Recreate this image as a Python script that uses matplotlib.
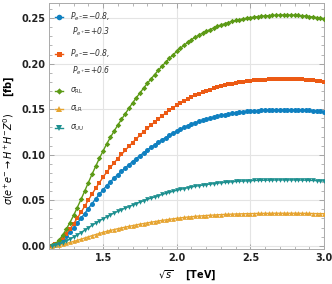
import numpy as np
import matplotlib
matplotlib.use("Agg")
import matplotlib.pyplot as plt
from matplotlib.ticker import MultipleLocator

# sqrt(s) in TeV
sqrt_s = [1.150, 1.175, 1.200, 1.225, 1.250, 1.275, 1.300, 1.325, 1.350, 1.375,
          1.400, 1.425, 1.450, 1.475, 1.500, 1.525, 1.550, 1.575, 1.600, 1.625,
          1.650, 1.675, 1.700, 1.725, 1.750, 1.775, 1.800, 1.825, 1.850, 1.875,
          1.900, 1.925, 1.950, 1.975, 2.000, 2.025, 2.050, 2.075, 2.100, 2.125,
          2.150, 2.175, 2.200, 2.225, 2.250, 2.275, 2.300, 2.325, 2.350, 2.375,
          2.400, 2.425, 2.450, 2.475, 2.500, 2.525, 2.550, 2.575, 2.600, 2.625,
          2.650, 2.675, 2.700, 2.725, 2.750, 2.775, 2.800, 2.825, 2.850, 2.875,
          2.900, 2.925, 2.950, 2.975, 3.000]

pol_03 = [0.0002, 0.0012, 0.0035, 0.0068, 0.0106, 0.0150, 0.0196, 0.0248, 0.0300, 0.0354,
          0.0409, 0.0463, 0.0515, 0.0566, 0.0614, 0.0661, 0.0703, 0.0743, 0.0782, 0.0819,
          0.0854, 0.0890, 0.0925, 0.0958, 0.0990, 0.1021, 0.1052, 0.1081, 0.1109, 0.1137,
          0.1164, 0.1189, 0.1214, 0.1237, 0.1260, 0.1280, 0.1300, 0.1319, 0.1336, 0.1351,
          0.1365, 0.1378, 0.1389, 0.1401, 0.1411, 0.1421, 0.1431, 0.1439, 0.1447, 0.1454,
          0.1460, 0.1466, 0.1470, 0.1475, 0.1479, 0.1482, 0.1485, 0.1487, 0.1490, 0.1492,
          0.1493, 0.1494, 0.1495, 0.1496, 0.1496, 0.1495, 0.1494, 0.1493, 0.1491, 0.1489,
          0.1486, 0.1483, 0.1479, 0.1476, 0.1472]

pol_06 = [0.0002, 0.0014, 0.0043, 0.0083, 0.0130, 0.0184, 0.0241, 0.0304, 0.0367, 0.0434,
          0.0501, 0.0567, 0.0631, 0.0694, 0.0752, 0.0810, 0.0861, 0.0911, 0.0958, 0.1003,
          0.1047, 0.1091, 0.1133, 0.1174, 0.1213, 0.1251, 0.1289, 0.1324, 0.1359, 0.1393,
          0.1426, 0.1457, 0.1488, 0.1516, 0.1543, 0.1568, 0.1592, 0.1615, 0.1637, 0.1655,
          0.1672, 0.1688, 0.1702, 0.1716, 0.1729, 0.1741, 0.1753, 0.1763, 0.1772, 0.1781,
          0.1789, 0.1795, 0.1801, 0.1807, 0.1812, 0.1816, 0.1819, 0.1822, 0.1825, 0.1827,
          0.1829, 0.1830, 0.1832, 0.1832, 0.1832, 0.1832, 0.1831, 0.1829, 0.1827, 0.1824,
          0.1820, 0.1816, 0.1812, 0.1808, 0.1803]

sigma_RL = [0.0003, 0.0020, 0.0060, 0.0115, 0.0180, 0.0255, 0.0333, 0.0420, 0.0508, 0.0600,
            0.0693, 0.0785, 0.0873, 0.0960, 0.1041, 0.1120, 0.1191, 0.1260, 0.1325, 0.1388,
            0.1448, 0.1509, 0.1568, 0.1624, 0.1678, 0.1731, 0.1783, 0.1832, 0.1880, 0.1927,
            0.1973, 0.2016, 0.2058, 0.2097, 0.2135, 0.2170, 0.2203, 0.2235, 0.2265, 0.2290,
            0.2313, 0.2335, 0.2355, 0.2374, 0.2392, 0.2409, 0.2425, 0.2439, 0.2452, 0.2464,
            0.2475, 0.2484, 0.2492, 0.2500, 0.2507, 0.2512, 0.2517, 0.2521, 0.2525, 0.2528,
            0.2530, 0.2532, 0.2534, 0.2535, 0.2535, 0.2534, 0.2533, 0.2530, 0.2527, 0.2523,
            0.2518, 0.2513, 0.2507, 0.2501, 0.2495]

sigma_LR = [0.0000, 0.0003, 0.0008, 0.0016, 0.0025, 0.0036, 0.0047, 0.0059, 0.0072, 0.0085,
            0.0098, 0.0111, 0.0123, 0.0135, 0.0147, 0.0158, 0.0168, 0.0178, 0.0187, 0.0196,
            0.0204, 0.0213, 0.0221, 0.0229, 0.0237, 0.0244, 0.0251, 0.0258, 0.0265, 0.0272,
            0.0278, 0.0284, 0.0290, 0.0296, 0.0301, 0.0306, 0.0311, 0.0315, 0.0319, 0.0323,
            0.0326, 0.0329, 0.0332, 0.0335, 0.0337, 0.0340, 0.0342, 0.0344, 0.0346, 0.0347,
            0.0349, 0.0350, 0.0351, 0.0353, 0.0353, 0.0354, 0.0355, 0.0355, 0.0356, 0.0356,
            0.0357, 0.0357, 0.0357, 0.0357, 0.0357, 0.0357, 0.0357, 0.0357, 0.0356, 0.0356,
            0.0355, 0.0354, 0.0353, 0.0353, 0.0352]

sigma_UU = [0.0001, 0.0006, 0.0017, 0.0033, 0.0051, 0.0073, 0.0095, 0.0120, 0.0145, 0.0171,
            0.0198, 0.0224, 0.0249, 0.0274, 0.0297, 0.0319, 0.0340, 0.0359, 0.0378, 0.0396,
            0.0413, 0.0430, 0.0447, 0.0463, 0.0479, 0.0494, 0.0509, 0.0523, 0.0536, 0.0550,
            0.0563, 0.0575, 0.0587, 0.0598, 0.0609, 0.0619, 0.0628, 0.0638, 0.0646, 0.0653,
            0.0660, 0.0666, 0.0672, 0.0677, 0.0682, 0.0687, 0.0692, 0.0696, 0.0699, 0.0703,
            0.0706, 0.0709, 0.0711, 0.0713, 0.0715, 0.0717, 0.0718, 0.0719, 0.0720, 0.0721,
            0.0722, 0.0722, 0.0723, 0.0723, 0.0723, 0.0723, 0.0723, 0.0722, 0.0721, 0.0720,
            0.0718, 0.0717, 0.0715, 0.0713, 0.0712]

x_ticks = [1.5, 2.0, 2.5, 3.0]
y_ticks = [0.00, 0.05, 0.10, 0.15, 0.20, 0.25]

C_BLUE = '#0f80c0'
C_ORANGE = '#ec5a14'
C_GREEN = '#5c9a16'
C_YELLOW = '#e6a430'
C_TEAL = '#1e9090'

plt.rcParams['font.family'] = ['DejaVu Sans']
plt.rcParams['mathtext.fontset'] = 'dejavusans'

fig = plt.figure(figsize=(3.32, 2.84), dpi=100)
ax = fig.add_axes([0.1485, 0.1232, 0.8275, 0.8673])

series = [
    (pol_03, C_BLUE, 'o', 3.6),
    (pol_06, C_ORANGE, 's', 3.2),
    (sigma_RL, C_GREEN, 'D', 2.8),
    (sigma_LR, C_YELLOW, '^', 3.4),
    (sigma_UU, C_TEAL, 'v', 3.4),
]
for vals, col, mk, ms in series:
    ax.plot(sqrt_s, vals, color=col, lw=1.0, marker=mk, ms=ms,
            markeredgewidth=0, zorder=3, clip_on=True)

ax.set_xlim(1.135, 3.0)
ax.set_ylim(-0.0036, 0.267)
ax.set_xticks(x_ticks)
ax.set_xticklabels([f'{t:.1f}' for t in x_ticks])
ax.set_yticks(y_ticks)
ax.set_yticklabels([f'{t:.2f}' for t in y_ticks])
ax.xaxis.set_minor_locator(MultipleLocator(0.1))
ax.yaxis.set_minor_locator(MultipleLocator(0.01))
ax.tick_params(which='both', direction='in', top=True, right=True, color='#999999')
ax.tick_params(which='major', length=3.5, width=0.6, labelsize=7, pad=3)
ax.tick_params(which='minor', length=2, width=0.5)
for lab in ax.get_xticklabels() + ax.get_yticklabels():
    lab.set_fontweight('bold')
    lab.set_color('#222222')
ax.grid(True, which='major', color='#e4e4e4', lw=0.8)
ax.set_axisbelow(True)
for sp in ax.spines.values():
    sp.set_color('#aaaaaa')
    sp.set_linewidth(0.7)

ax.set_xlabel(r'$\sqrt{s}$    [TeV]', fontsize=7, fontweight='bold', labelpad=4)
ax.set_ylabel(r'$\sigma(e^{+}e^{-}\rightarrow H^{+}H^{-}Z^{0})$     [fb]', fontsize=7,
              fontweight='bold', labelpad=3)
ax.yaxis.set_label_coords(-0.118, 0.44)

# legend keys (axes coordinates)
x0p, x1p, y0p, y1p = 49.3, 324.0, 2.7, 249.0
def ac(px, py):
    return ((px - x0p) / (x1p - x0p), 1 - (py - y0p) / (y1p - y0p))

leg = [
    (C_BLUE, 'o', 4.0, 17, r'$P_{e^{-}}$=$-$0.8,', r'$P_{e^{+}}$=+0.3', 32),
    (C_ORANGE, 's', 3.6, 54, r'$P_{e^{-}}$=$-$0.8,', r'$P_{e^{+}}$=+0.6', 71),
    (C_GREEN, 'D', 3.2, 91, r'$\sigma_{\mathrm{RL}}$', None, None),
    (C_YELLOW, '^', 4.0, 109, r'$\sigma_{\mathrm{LR}}$', None, None),
    (C_TEAL, 'v', 4.0, 128, r'$\sigma_{\mathrm{UU}}$', None, None),
]
for col, mk, ms, py, t1, t2, py2 in leg:
    ax.plot(*ac(59, py), transform=ax.transAxes, marker=mk, ms=ms, color=col,
            markeredgewidth=0, clip_on=False, zorder=5)
    ax.plot([ac(55, py)[0], ac(63, py)[0]], [ac(55, py)[1]] * 2, transform=ax.transAxes,
            color=col, lw=1.0, clip_on=False, zorder=5)
    ax.text(*ac(70, py), t1, transform=ax.transAxes, fontsize=5.5, va='center',
            ha='left', style='italic', color='#333333')
    if t2:
        ax.text(*ac(72, py2), t2, transform=ax.transAxes, fontsize=5.5, va='center',
                ha='left', style='italic', color='#333333')

fig.savefig('out.png', dpi=100)
